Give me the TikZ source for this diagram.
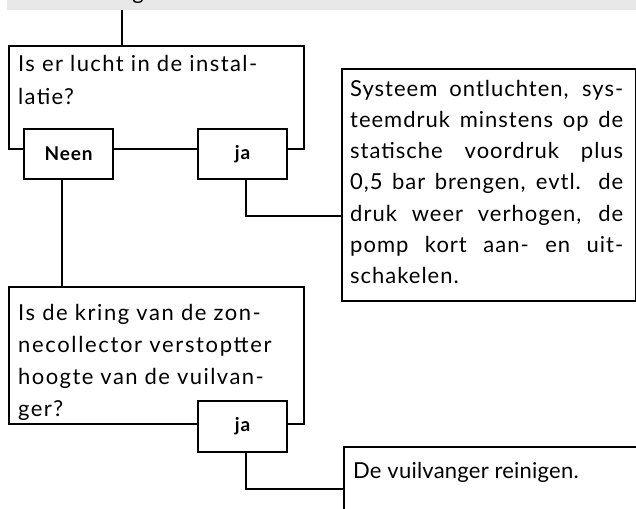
\documentclass[tikz,border=0pt]{standalone}
\usepackage{fontspec}
\setmainfont{Lato}[LetterSpace=4.5]
\definecolor{barcol}{HTML}{E8E8E8}
\begin{document}
\begin{tikzpicture}[x=1pt,y=-1pt,
  box/.style={draw, line width=2.2pt, fill=white, inner sep=0pt, anchor=north west},
  lbl/.style={font=\fontsize{19}{19}\bfseries\selectfont},
  txt/.style={anchor=base west, inner sep=0pt, font=\fontsize{22}{22}\selectfont\addfontfeatures{LetterSpace=#1}},
  txt/.default=4.5,
  conn/.style={line width=2.2pt}]
\useasboundingbox (0,0) rectangle (636,508);
\clip (0,0) rectangle (636,508);
% top bar
\node[fill=barcol, inner sep=0pt, minimum width=640pt, minimum height=20pt, anchor=south west] (bar) at (7,10.7) {};
\node[txt, anchor=base] (gfrag) at (138,-0.5) {g};
% boxes
\node[box, minimum width=295pt, minimum height=103pt] (q1) at (8,45) {};
\node[box, lbl, minimum width=89pt, minimum height=50pt] (neen) at (23,128) {Neen};
\node[box, lbl, minimum width=89pt, minimum height=50pt] (ja1) at (197,128) {ja};
\node[box, minimum width=294pt, minimum height=232pt] (a1) at (341,68) {};
\node[box, minimum width=295pt, minimum height=137pt] (q2) at (8,286) {};
\node[box, lbl, minimum width=89pt, minimum height=51pt] (ja2) at (197,400) {ja};
\node[box, minimum width=320pt, minimum height=100pt] (a2) at (343,446) {};
% connectors
\coordinate (t1) at (122,10);
\draw[conn] (t1) -- (t1 |- q1.north);
\draw[conn] ([xshift=-6.5pt]neen.south) -- ([xshift=-6.5pt]neen.south |- q2.north);
\draw[conn] ([xshift=3.5pt]ja1.south) |- ([yshift=-148pt]a1.north west);
\draw[conn] ([xshift=3.5pt]ja2.south) |- ([yshift=-43pt]a2.north west);
% texts
\node[txt=6.5] (q1l1) at (18,72) {Is er lucht in de instal-};
\node[txt=6] (q1l2) at (18,104) {latie?};
\node[txt] (a1l1) at (350,96) {\makebox[273pt][s]{Systeem ontluchten, sys-}};
\node[txt] (a1l2) at (350,127.3) {\makebox[273pt][s]{teemdruk minstens op de}};
\node[txt] (a1l3) at (350,158.6) {\makebox[273pt][s]{statische voordruk plus}};
\node[txt] (a1l4) at (350,189.9) {\makebox[273pt][s]{0,5 bar brengen, evtl. de}};
\node[txt] (a1l5) at (350,221.2) {\makebox[273pt][s]{druk weer verhogen, de}};
\node[txt] (a1l6) at (350,252.5) {\makebox[273pt][s]{pomp kort aan- en uit-}};
\node[txt] (a1l7) at (350,283.8) {schakelen.};
\node[txt=7] (q2l1) at (18,320) {Is de kring van de zon-};
\node[txt=7.5] (q2l2) at (18,352) {necollector verstoptter};
\node[txt=6.5] (q2l3) at (18,384) {hoogte van de vuilvan-};
\node[txt=6.5] (q2l4) at (18,416) {ger?};
\node[txt=1] (a2l1) at (353,478) {De vuilvanger reinigen.};
\end{tikzpicture}
\end{document}
